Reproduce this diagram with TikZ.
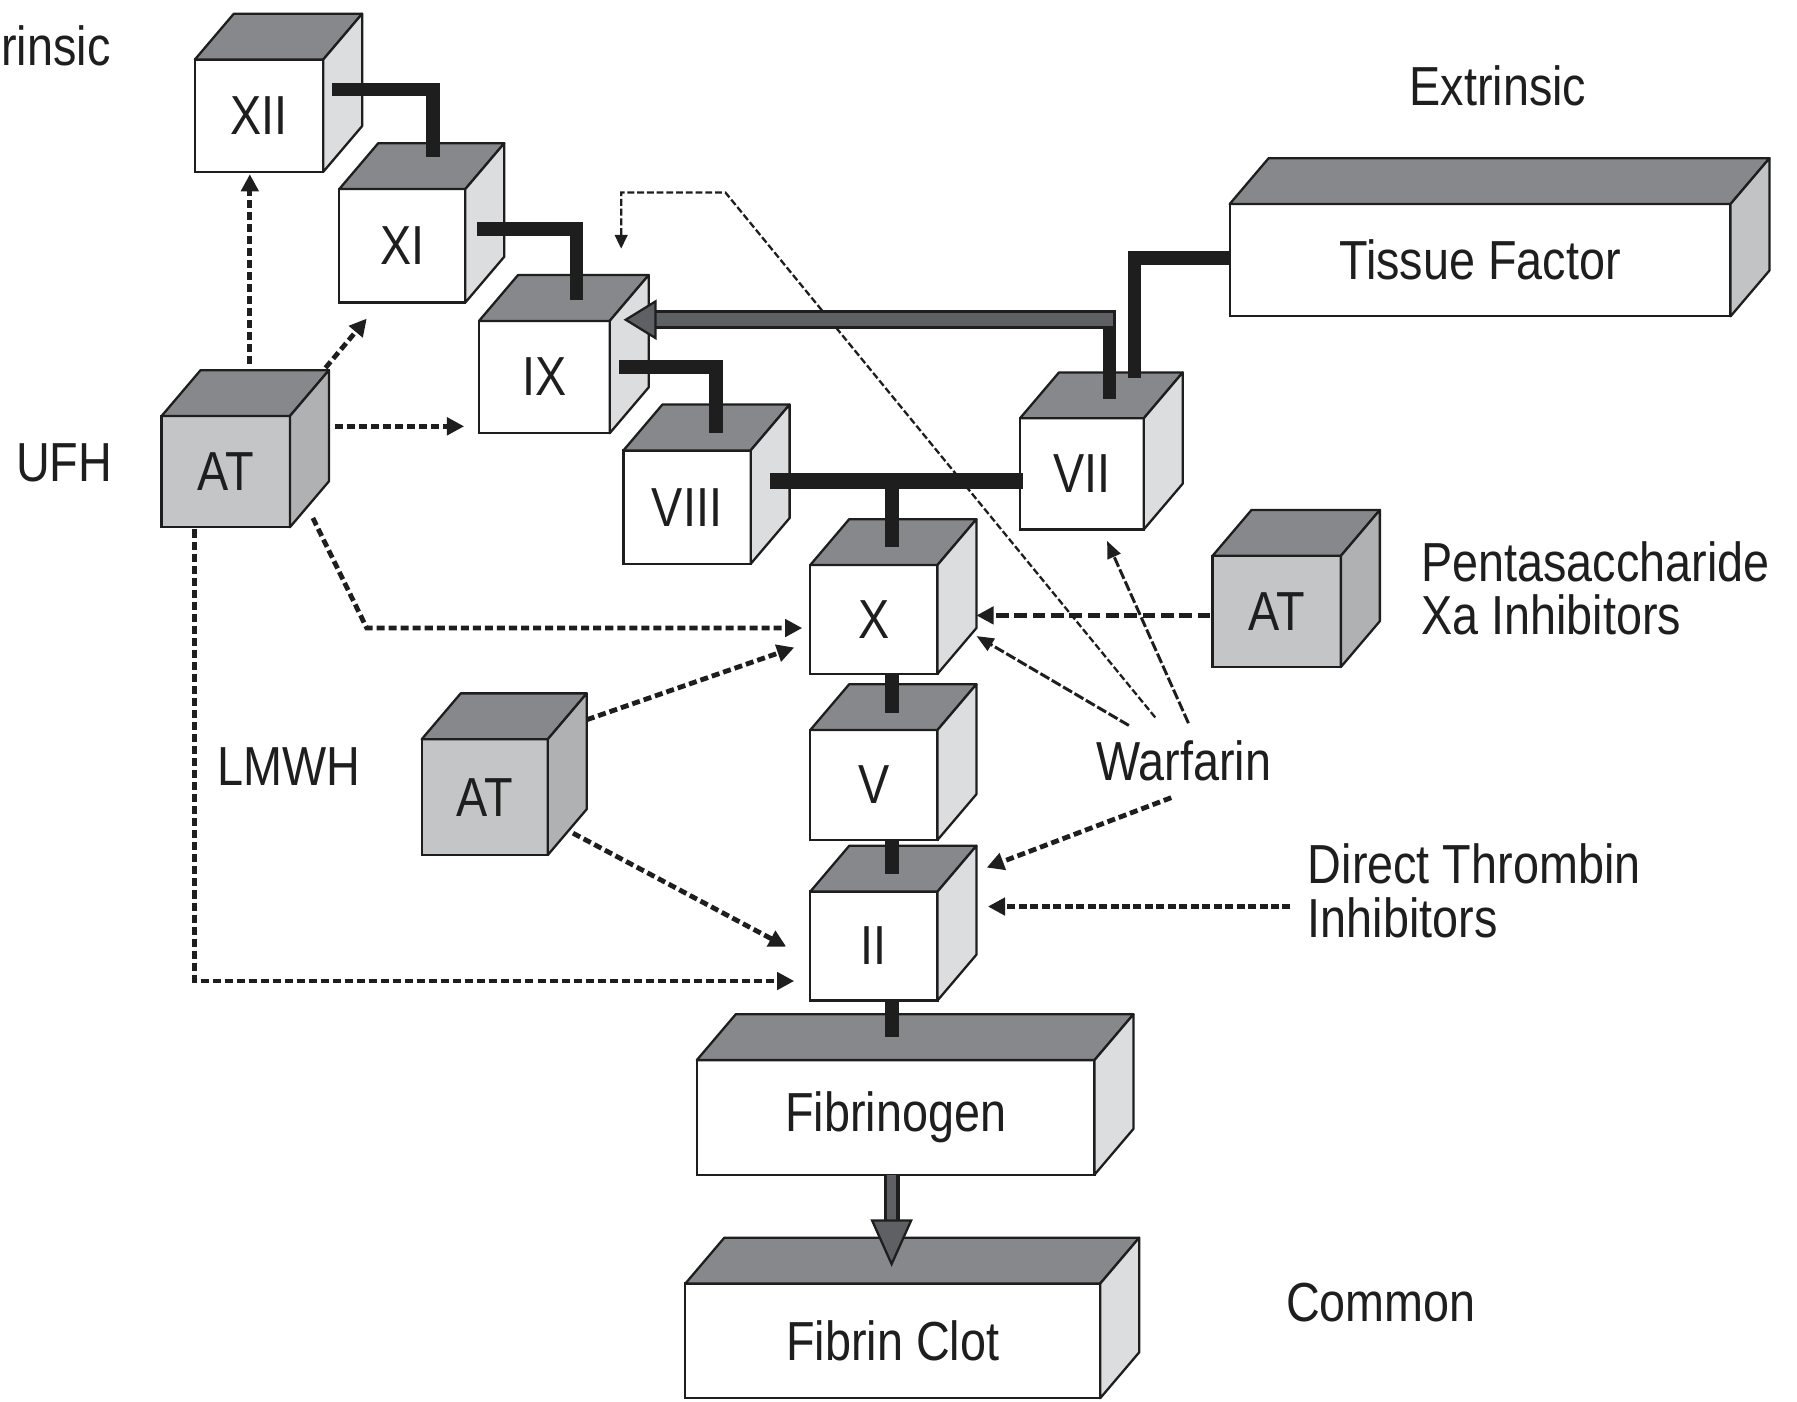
\documentclass[tikz,border=0pt]{standalone}
\usepackage{fontspec}
\setmainfont[FakeStretch=0.85]{Liberation Sans}
\usetikzlibrary{arrows.meta,calc}
\definecolor{topc}{HTML}{86888B}
\definecolor{sidew}{HTML}{DCDDDF}
\definecolor{atfront}{HTML}{C4C5C7}
\definecolor{atside}{HTML}{B0B1B3}
\definecolor{tfside}{HTML}{C2C3C5}
\definecolor{shaft}{HTML}{5F6063}
\definecolor{ink}{HTML}{1E1E1E}
\newcommand\cubebox[8]{%
  \node[boxface, fill=#6, minimum width={(#4-#2)*1pt}, minimum height={(#5-#3)*1pt}] (#1) at ({(#2+#4)/2},{(#3+#5)/2}) {#8};
  \filldraw[topface] (#1.north west) -- ++(34,-40) -- ++({#4-#2},0) -- (#1.north east) -- cycle;
  \filldraw[sideface, fill=#7] (#1.north east) -- ++(34,-40) -- ++(0,{#5-#3}) -- (#1.south east) -- cycle;
}
\begin{document}
\begin{tikzpicture}[x=1pt,y=-1pt,
  font=\fontsize{48}{52}\selectfont,
  boxface/.style={draw=ink, line width=2pt, inner sep=0pt, outer sep=0pt, shape=rectangle, text=ink},
  topface/.style={fill=topc, draw=ink, line width=2pt, line join=round},
  sideface/.style={draw=ink, line width=2pt, line join=round},
  bar/.style={line width=12pt, line join=miter, line cap=butt, draw=ink},
  dar/.style={draw=ink, line width=4.2pt, dash pattern=on 7pt off 3.5pt, -{Triangle[length=15pt,width=15pt]}},
  sar/.style={draw=ink, line width=2.6pt, dash pattern=on 9pt off 2.5pt, -{Triangle[length=15pt,width=12pt]}},
  tdar/.style={draw=ink, line width=2pt, dash pattern=on 6pt off 2.5pt, -{Triangle[length=12pt,width=11pt]}},
  lab/.style={inner sep=0pt, anchor=base, text=ink}]
\useasboundingbox[fill=white] (0,0) rectangle (1568,1223);

% labels
\node[lab, anchor=base west] (lint) at (1,57) {rinsic};
\node[lab] (lext) at (1307,92) {Extrinsic};
\node[lab] (lufh) at (56,420) {UFH};
\node[lab] (llmwh) at (252,685) {LMWH};
\node[lab, anchor=base west] (lpen) at (1240,507) {Pentasaccharide};
\node[lab, anchor=base west] (lxa) at (1240,554) {Xa Inhibitors};
\node[lab] (war) at (1033,681) {Warfarin};
\node[lab, anchor=base west] (dti) at (1141,771) {Direct Thrombin};
\node[lab, anchor=base west] (dti2) at (1141,818) {Inhibitors};
\node[lab] (lcom) at (1205,1153) {Common};

% boxes
\cubebox{f12}{170}{52}{282}{150}{white}{sidew}{XII}
\cubebox{f11}{296}{165}{406}{264}{white}{sidew}{XI}
\cubebox{f9}{418}{280}{532}{378}{white}{sidew}{IX}
\cubebox{f8}{544}{393}{655}{492}{white}{sidew}{VIII}
\cubebox{f7}{890}{365}{998}{462}{white}{sidew}{VII}
\cubebox{f10}{707}{493}{818}{588}{white}{sidew}{X}
\cubebox{f5}{707}{637}{818}{733}{white}{sidew}{V}
\cubebox{f2}{707}{778}{818}{873}{white}{sidew}{II}
\cubebox{atu}{141}{363}{253}{460}{atfront}{atside}{AT}
\cubebox{atl}{368}{645}{478}{746}{atfront}{atside}{AT}
\cubebox{atp}{1058}{485}{1170}{582}{atfront}{atside}{AT}
\cubebox{tf}{1073}{178}{1510}{276}{white}{tfside}{Tissue Factor}
\cubebox{fg}{608}{925}{955}{1025}{white}{sidew}{Fibrinogen}
\cubebox{fc}{598}{1120}{960}{1220}{white}{sidew}{Fibrin Clot}

% long warfarin line to IX (behind the bars)
\draw[tdar] ($(war.base)+(-25,-55)$) -- ($(f9.north)+(158,-112)$) -| ($(f9.north)+(67,-63)$);

% thick bars
\draw[bar] ($(f12.north east)+(8,26)$) -| ($(f11.north)+(27,-28)$);
\draw[bar] ($(f11.north east)+(10,35)$) -| ($(f9.north)+(28,-18)$);
\draw[bar] ($(f9.north east)+(8,40)$) -| ($(f8.north)+(25.5,-15)$);
\coordinate (b1) at ($(f8.north east)+(17,27)$);
\coordinate (b2) at ($(f7.west)+(3,6.5)$);
\coordinate (b3) at ($(f10.north)+(15.5,-16)$);
\draw[bar, line width=14pt] (b1) -- (b2);
\draw[bar] (b3 |- b1) -- (b3);
\draw[bar] ($(tf.west)+(0,-2)$) -| ($(f7.north)+(46,-35)$);
\draw[bar] ($(f10.south)+(15.5,0)$) -- ($(f5.north)+(15.5,-15)$);
\draw[bar] ($(f5.south)+(15.5,0)$) -- ($(f2.north)+(15.5,-15)$);
\draw[bar] ($(f2.south)+(15.5,0)$) -- ($(fg.north)+(-3.5,-20)$);

% grey arrow VII -> IX
\coordinate (g1) at ($(f7.north)+(24,-17)$);
\coordinate (g2) at ($(f9.north east)+(14,-1)$);
\draw[bar] (g1) -- ($(g1 |- g2)+(0,-2)$);
\draw[ink, line width=17pt] ($(g1 |- g2)+(6,0)$) -- ($(g2)+(24,0)$);
\draw[shaft, line width=11pt] ($(g1 |- g2)+(3,0)$) -- ($(g2)+(24,0)$);
\filldraw[fill=shaft, draw=ink, line width=2pt, line join=miter] (g2) -- ++(26,-16) -- ++(0,32) -- cycle;

% fibrinogen -> fibrin clot
\coordinate (fa1) at ($(fg.south)+(-3.5,0)$);
\coordinate (fa2) at ($(fc.north)+(-1,-17)$);
\draw[ink, line width=14pt] (fa1) -- ($(fa2)+(0,-36)$);
\draw[shaft, line width=8pt] (fa1) -- ($(fa2)+(0,-36)$);
\filldraw[fill=shaft, draw=ink, line width=2pt, line join=miter] (fa2) -- ++(-17,-38) -- ++(34,0) -- cycle;

% dashed inhibitor arrows
\draw[dar] ($(atu.north)+(21,-45)$) -- ($(f12.south)+(-8,2)$);
\draw[dar] ($(atu.north east)+(31,-42)$) -- ($(f11.south west)+(24,14)$);
\draw[dar] ($(atu.east)+(39,-39.5)$) -- ($(f9.west)+(-13,43)$);
\draw[dar] ($(atu.south east)+(20,-8)$) -- ($(atu.south east)+(67,88)$) -- ($(f10.west)+(-7,7.5)$);
\draw[dar] ($(atu.south west)+(29,2)$) |- ($(f2.west)+(-14,30.5)$);
\draw[dar] ($(atl.north east)+(34,-17)$) -- ($(f10.west)+(-14,24.5)$);
\draw[dar] ($(atl.south east)+(22,-19)$) -- ($(f2.west)+(-21,0.5)$);
\draw[dar, dash pattern=on 11pt off 5pt] ($(atp.west)+(-2,3.5)$) -- ($(f10.east)+(34,-3.5)$);
\draw[dar, dash pattern=on 7pt off 3pt] ($(dti.base west)+(-15,20)$) -- ($(f2.east)+(44,-34.5)$);
\draw[dar] ($(war.base)+(-11,15)$) -- ($(f2.north east)+(43,-21)$);

% warfarin arrows to X and VII
\draw[sar] ($(war.base)+(-48,-48)$) -- ($(f10.east)+(34,14.5)$);
\draw[sar] ($(war.base)+(4,-50)$) -- ($(f7.south)+(22,10)$);
\end{tikzpicture}
\end{document}
